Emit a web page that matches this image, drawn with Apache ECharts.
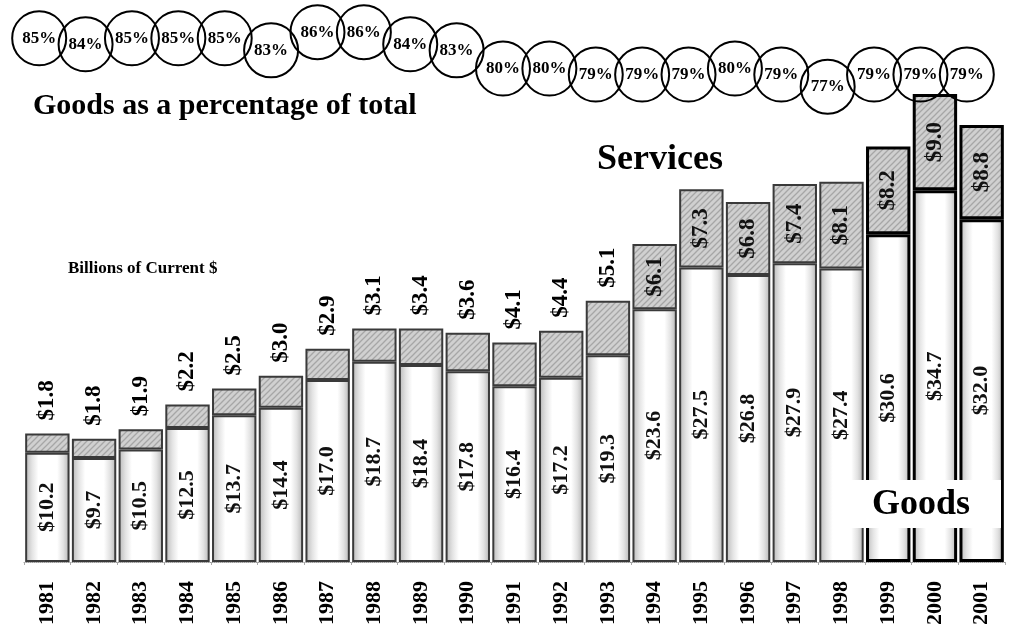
<!DOCTYPE html>
<html>
<head>
<meta charset="utf-8">
<style>
  html, body { margin: 0; padding: 0; background: #fff; }
  #chart { width: 1019px; height: 628px; }
</style>
<script src="https://cdn.jsdelivr.net/npm/echarts@6/dist/echarts.min.js"></script>
</head>
<body>
<div id="chart"></div>
<script>
// Exports, billions of current dollars, split into goods and services
const years = ['1981','1982','1983','1984','1985','1986','1987','1988','1989','1990','1991',
               '1992','1993','1994','1995','1996','1997','1998','1999','2000','2001'];
const goods = [10.2, 9.7, 10.5, 12.5, 13.7, 14.4, 17.0, 18.7, 18.4, 17.8, 16.4,
               17.2, 19.3, 23.6, 27.5, 26.8, 27.9, 27.4, 30.6, 34.7, 32.0];
const services = [1.8, 1.8, 1.9, 2.2, 2.5, 3.0, 2.9, 3.1, 3.4, 3.6, 4.1,
                  4.4, 5.1, 6.1, 7.3, 6.8, 7.4, 8.1, 8.2, 9.0, 8.8];
// Goods as a percentage of total
const goodsShare = [85, 84, 85, 85, 85, 83, 86, 86, 84, 83, 80,
                    80, 79, 79, 79, 80, 79, 77, 79, 79, 79];
// Years whose services value is written inside the bar instead of above it
const servicesInsideFrom = '1994';
// Years drawn with a heavier outline
const heavyYears = ['1999', '2000', '2001'];

const SERIF = "'Liberation Serif', 'Times New Roman', serif";

function hatchPattern() {
  const c = document.createElement('canvas');
  c.width = 6; c.height = 6;
  const g = c.getContext('2d');
  g.fillStyle = '#d0d0d0';
  g.fillRect(0, 0, 6, 6);
  g.strokeStyle = '#a6a6a6';
  g.lineWidth = 1.3;
  g.beginPath();
  g.moveTo(0, 6); g.lineTo(6, 0);
  g.moveTo(-3, 3); g.lineTo(3, -3);
  g.moveTo(3, 9); g.lineTo(9, 3);
  g.stroke();
  return c;
}

const goodsFill = {
  type: 'linear', x: 0, y: 0, x2: 1, y2: 0,
  colorStops: [
    { offset: 0, color: '#b8b8b8' },
    { offset: 0.16, color: '#e4e4e4' },
    { offset: 0.3, color: '#ffffff' },
    { offset: 0.72, color: '#ffffff' },
    { offset: 0.86, color: '#e2e2e2' },
    { offset: 1, color: '#b4b4b4' }
  ]
};
const servicesFill = { image: hatchPattern(), repeat: 'repeat' };

const money = v => '$' + v.toFixed(1);

function outline(i) {
  const heavy = heavyYears.includes(years[i]);
  return { borderColor: heavy ? '#000' : '#3a3a3a', borderWidth: heavy ? 3 : 2 };
}

const goodsData = goods.map((v, i) => ({ value: v, itemStyle: outline(i) }));
const servicesData = services.map((v, i) => {
  const inside = years[i] >= servicesInsideFrom;
  return {
    value: v,
    itemStyle: outline(i),
    label: inside
      ? { position: 'inside', align: 'center', verticalAlign: 'middle', color: '#111' }
      : { position: 'top', align: 'left', verticalAlign: 'middle', distance: 13 }
  };
});

const chart = echarts.init(document.getElementById('chart'), null, { renderer: 'canvas' });

chart.setOption({
  backgroundColor: '#ffffff',
  animation: false,
  grid: [
    { left: 24, right: 14, top: 80, bottom: 66 },
    { left: 16, right: 29, top: 8, height: 121 }
  ],
  xAxis: [
    {
      type: 'category', data: years, gridIndex: 0,
      axisLine: { lineStyle: { color: '#9a9a9a', width: 1, type: 'dotted' } },
      axisTick: { show: true, length: 3, lineStyle: { color: '#aaa' } },
      axisLabel: {
        rotate: 90, margin: 19, color: '#000',
        fontFamily: SERIF, fontWeight: 'bold', fontSize: 22
      }
    },
    { type: 'category', data: years, gridIndex: 1, show: false }
  ],
  yAxis: [
    { type: 'value', min: 0, max: 45, gridIndex: 0, show: false },
    { type: 'value', min: 70, max: 90, gridIndex: 1, show: false }
  ],
  series: [
    {
      name: 'Goods', type: 'bar', stack: 'total', barCategoryGap: '5%',
      xAxisIndex: 0, yAxisIndex: 0, z: 2,
      itemStyle: { color: goodsFill },
      label: {
        show: true, position: 'inside', rotate: 90,
        formatter: p => money(p.value),
        color: '#111', fontFamily: SERIF, fontWeight: 'bold', fontSize: 22
      },
      data: goodsData
    },
    {
      name: 'Services', type: 'bar', stack: 'total', barCategoryGap: '5%',
      xAxisIndex: 0, yAxisIndex: 0, z: 2,
      itemStyle: { color: servicesFill },
      label: {
        show: true, rotate: 90,
        formatter: p => money(p.value),
        color: '#000', fontFamily: SERIF, fontWeight: 'bold', fontSize: 23
      },
      data: servicesData
    },
    {
      name: 'Goods share', type: 'line', xAxisIndex: 1, yAxisIndex: 1, z: 5,
      symbol: 'circle', symbolSize: 54,
      lineStyle: { width: 0, opacity: 0 },
      itemStyle: { color: 'rgba(255,255,255,0)', borderColor: '#000', borderWidth: 2 },
      label: {
        show: true, position: 'inside', formatter: p => p.value + '%',
        color: '#000', fontFamily: SERIF, fontWeight: 'bold', fontSize: 17
      },
      data: goodsShare
    }
  ],
  graphic: [
    {
      type: 'text', z: 10,
      style: { x: 33, y: 106, text: 'Goods as a percentage of total', fill: '#000',
               font: 'bold 30px ' + SERIF, textAlign: 'left', textVerticalAlign: 'middle' }
    },
    {
      type: 'text', z: 10,
      style: { x: 660, y: 160, text: 'Services', fill: '#000',
               font: 'bold 36px ' + SERIF, textAlign: 'center', textVerticalAlign: 'middle' }
    },
    {
      type: 'text', z: 10,
      style: { x: 68, y: 269, text: 'Billions of Current $', fill: '#000',
               font: 'bold 17px ' + SERIF, textAlign: 'left', textVerticalAlign: 'middle' }
    },
    {
      type: 'rect', z: 20,
      shape: { x: 850, y: 480, width: 151, height: 48 },
      style: { fill: '#ffffff' }
    },
    {
      type: 'text', z: 21,
      style: { x: 921, y: 505, text: 'Goods', fill: '#000',
               font: 'bold 36px ' + SERIF, textAlign: 'center', textVerticalAlign: 'middle' }
    }
  ]
});
</script>
</body>
</html>
